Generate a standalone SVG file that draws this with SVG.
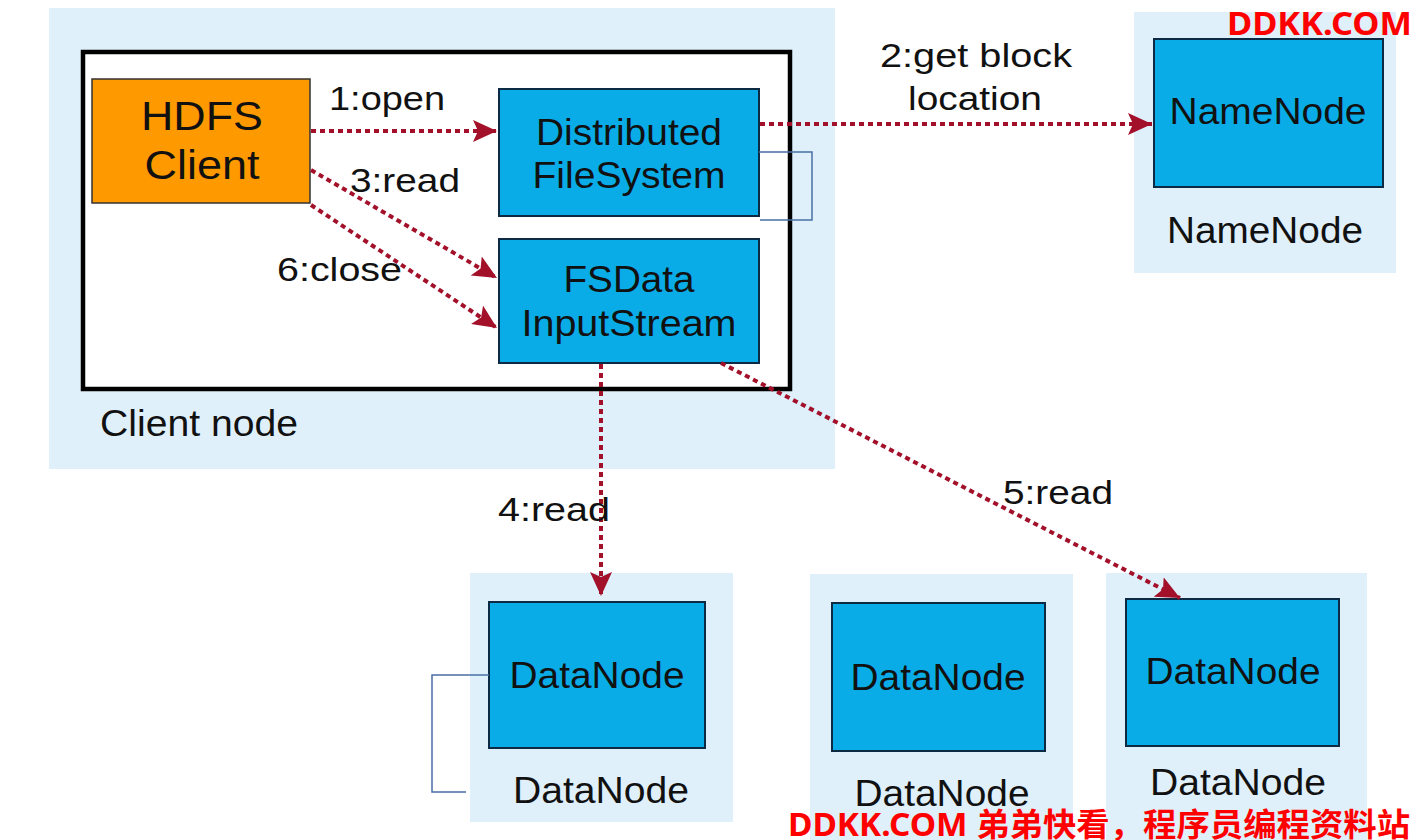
<svg xmlns="http://www.w3.org/2000/svg" width="1416" height="840" viewBox="0 0 1416 840">
<defs>
<style>
.bg{fill:#dff0fb;}
.box{fill:#0aace8;stroke:#0d2a44;stroke-width:2;}
.t{font-family:"Liberation Sans",Arial,sans-serif;font-size:36px;fill:#111;}
.c{text-anchor:middle;}
.ar{fill:none;stroke:#a3102a;stroke-width:4;stroke-dasharray:5 4;marker-end:url(#ah);}
.br{fill:none;stroke:#4a6fa5;stroke-width:1.5;}
.red{font-family:"Noto Sans","Noto Sans CJK SC",sans-serif;font-weight:bold;font-size:32px;fill:#ff0000;}
</style>
<marker id="ah" markerUnits="userSpaceOnUse" markerWidth="26" markerHeight="22" refX="24" refY="11" orient="auto">
<path d="M0,0 L24,11 L0,22 L5,11 Z" fill="#a3102a"/>
</marker>
</defs>
<rect width="1416" height="840" fill="#ffffff"/>

<g id="client-node">
<rect class="bg" x="49" y="8" width="786" height="461"/>
<rect x="83" y="52" width="707" height="337" fill="#ffffff" stroke="#000" stroke-width="4.5"/>
<text class="t" x="100" y="436" textLength="198" lengthAdjust="spacingAndGlyphs">Client node</text>
</g>

<g id="hdfs-client">
<rect x="92" y="79" width="218" height="124" fill="#ff9900" stroke="#333" stroke-width="1.5"/>
<text class="t c" x="202" y="130" style="font-size:41px" textLength="122" lengthAdjust="spacingAndGlyphs">HDFS</text>
<text class="t c" x="202" y="179" style="font-size:41px" textLength="115" lengthAdjust="spacingAndGlyphs">Client</text>
</g>

<g id="dfs">
<rect class="box" x="499" y="89" width="260" height="127"/>
<text class="t c" x="629" y="145" textLength="186" lengthAdjust="spacingAndGlyphs">Distributed</text>
<text class="t c" x="629" y="188" textLength="193" lengthAdjust="spacingAndGlyphs">FileSystem</text>
</g>

<g id="fsdata">
<rect class="box" x="499" y="239" width="260" height="124"/>
<text class="t c" x="629" y="292" textLength="131" lengthAdjust="spacingAndGlyphs">FSData</text>
<text class="t c" x="629" y="336" textLength="215" lengthAdjust="spacingAndGlyphs">InputStream</text>
</g>

<g id="namenode">
<rect class="bg" x="1134" y="12" width="262" height="261"/>
<rect class="box" x="1154" y="39" width="229" height="148"/>
<text class="t c" x="1268" y="124" textLength="197" lengthAdjust="spacingAndGlyphs">NameNode</text>
<text class="t c" x="1265" y="243" textLength="196" lengthAdjust="spacingAndGlyphs">NameNode</text>
</g>

<g id="datanode1">
<rect class="bg" x="470" y="573" width="263" height="249"/>
<rect class="box" x="489" y="602" width="216" height="146"/>
<text class="t c" x="597" y="688" textLength="175" lengthAdjust="spacingAndGlyphs">DataNode</text>
<text class="t c" x="601" y="803" textLength="176" lengthAdjust="spacingAndGlyphs">DataNode</text>
</g>

<g id="datanode2">
<rect class="bg" x="810" y="574" width="263" height="266"/>
<rect class="box" x="832" y="603" width="213" height="148"/>
<text class="t c" x="938" y="690" textLength="175" lengthAdjust="spacingAndGlyphs">DataNode</text>
<text class="t c" x="942" y="806" textLength="175" lengthAdjust="spacingAndGlyphs">DataNode</text>
</g>

<g id="datanode3">
<rect class="bg" x="1106" y="573" width="261" height="267"/>
<rect class="box" x="1126" y="599" width="213" height="147"/>
<text class="t c" x="1233" y="684" textLength="175" lengthAdjust="spacingAndGlyphs">DataNode</text>
<text class="t c" x="1238" y="795" textLength="176" lengthAdjust="spacingAndGlyphs">DataNode</text>
</g>

<g id="connectors">
<path class="br" d="M759,152 H812 V220 H760"/>
<path class="br" d="M489,675 H432 V792 H466"/>
<path class="ar" d="M311,131 H497"/>
<path class="ar" d="M760,124 H1152"/>
<path class="ar" d="M311,170 L497,278"/>
<path class="ar" d="M311,205 L497,328"/>
<path class="ar" d="M601,364 V596"/>
<path class="ar" d="M721,363 L1180,598"/>
</g>

<g id="labels">
<text class="t" x="329" y="110" style="font-size:34px" textLength="116" lengthAdjust="spacingAndGlyphs">1:open</text>
<text class="t" x="350" y="192" style="font-size:34px" textLength="110" lengthAdjust="spacingAndGlyphs">3:read</text>
<text class="t" x="277" y="281" style="font-size:34px" textLength="125" lengthAdjust="spacingAndGlyphs">6:close</text>
<text class="t" x="880" y="67" style="font-size:34px" textLength="192" lengthAdjust="spacingAndGlyphs">2:get block</text>
<text class="t" x="908" y="110" style="font-size:34px" textLength="134" lengthAdjust="spacingAndGlyphs">location</text>
<text class="t" x="498" y="521" style="font-size:34px" textLength="112" lengthAdjust="spacingAndGlyphs">4:read</text>
<text class="t" x="1003" y="504" style="font-size:34px" textLength="110" lengthAdjust="spacingAndGlyphs">5:read</text>
</g>

<g id="watermarks">
<text class="red" x="1227" y="35" textLength="185" lengthAdjust="spacingAndGlyphs">DDKK.COM</text>
<text class="red" x="788" y="836" textLength="622" lengthAdjust="spacingAndGlyphs">DDKK.COM 弟弟快看，程序员编程资料站</text>
</g>
</svg>
